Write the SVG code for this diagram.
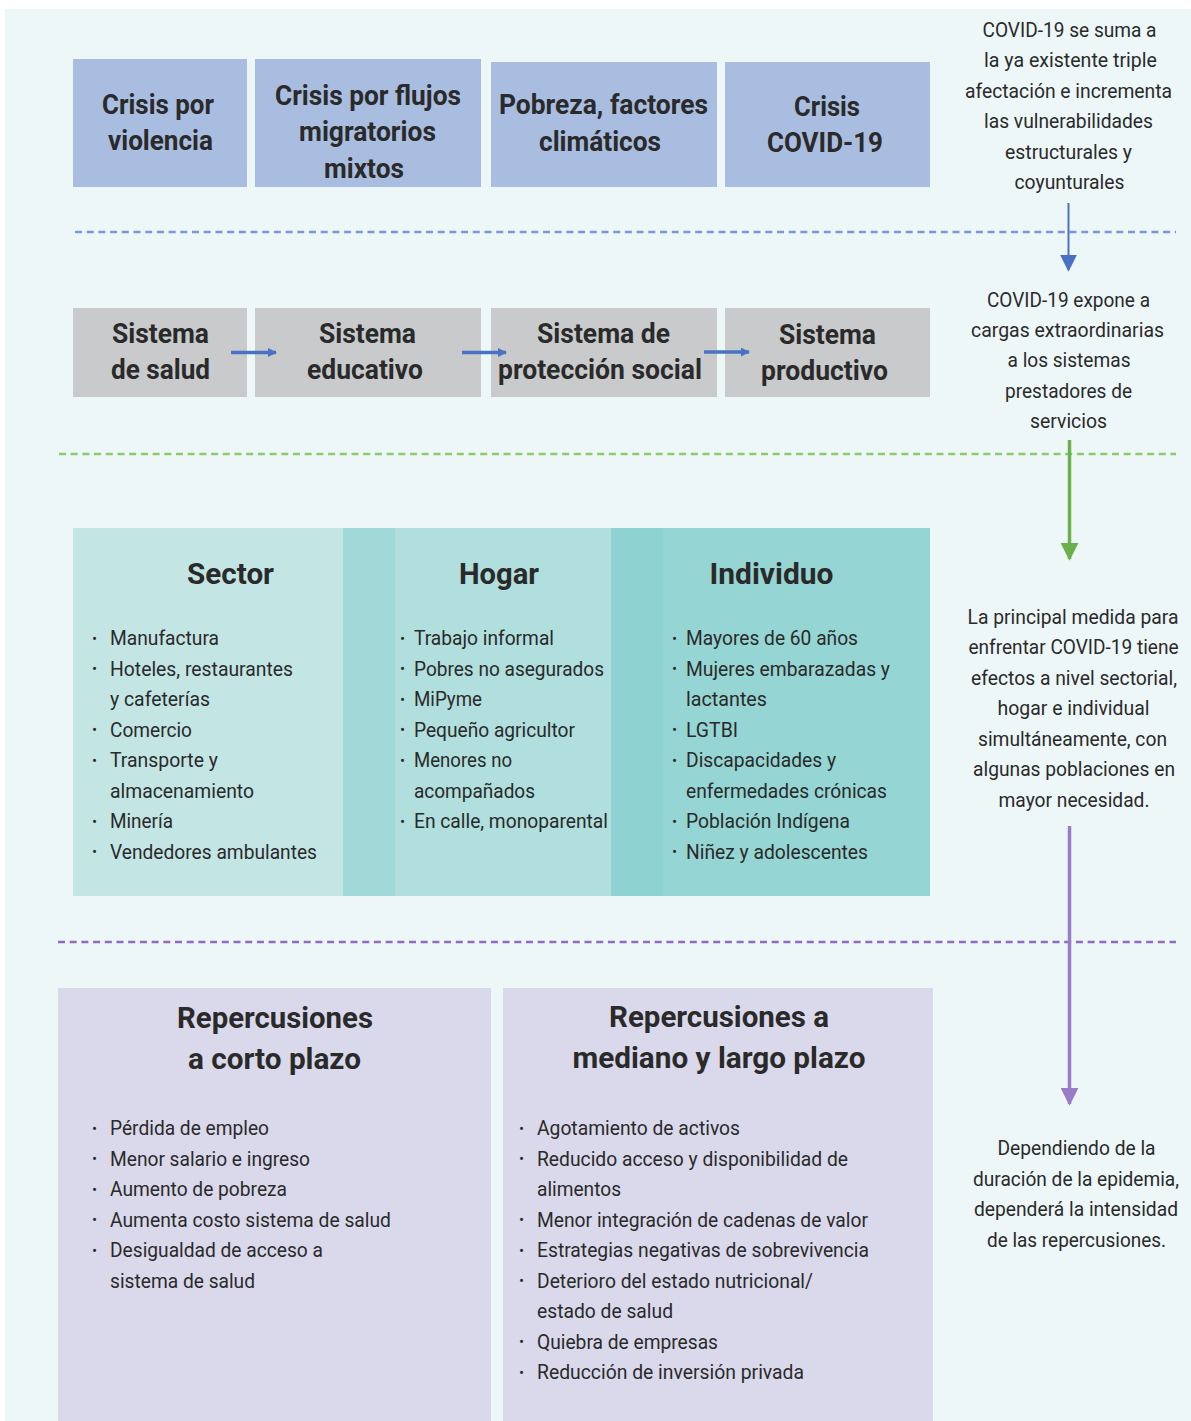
<svg xmlns="http://www.w3.org/2000/svg" width="1191" height="1421" viewBox="0 0 1191 1421">
  <style>
    .box-top { fill: #a9bde0; }
    .box-sys { fill: #c9cacc; }
    text { font-family: "Roboto", "Liberation Sans", sans-serif; fill: #2a2a2a; }
    .h1 { font-weight: bold; font-size: 28px; text-anchor: middle; }
    .h2 { font-weight: bold; font-size: 29px; text-anchor: middle; }
    .note { font-size: 20px; text-anchor: middle; }
    .item { font-size: 21px; }
    .bul { font-size: 15px; }
  </style>
  <defs>
    <marker id="ahBlue" viewBox="0 0 10 10" refX="9" refY="5" markerWidth="17" markerHeight="17" orient="auto" markerUnits="userSpaceOnUse">
      <path d="M0,0 L10,5 L0,10 z" fill="#4a72c4"/>
    </marker>
    <marker id="ahSmall" viewBox="0 0 10 10" refX="9" refY="5" markerWidth="9" markerHeight="9" orient="auto" markerUnits="userSpaceOnUse">
      <path d="M0,0 L10,5 L0,10 z" fill="#4a72c4"/>
    </marker>
    <marker id="ahGreen" viewBox="0 0 10 10" refX="9" refY="5" markerWidth="18" markerHeight="18" orient="auto" markerUnits="userSpaceOnUse">
      <path d="M0,0 L10,5 L0,10 z" fill="#6ab04c"/>
    </marker>
    <marker id="ahPurple" viewBox="0 0 10 10" refX="9" refY="5" markerWidth="18" markerHeight="18" orient="auto" markerUnits="userSpaceOnUse">
      <path d="M0,0 L10,5 L0,10 z" fill="#9a7cc6"/>
    </marker>
  </defs>

  <!-- page -->
  <rect x="0" y="0" width="1191" height="1421" fill="#ffffff"/>
  <rect x="5" y="9" width="1186" height="1412" fill="#eef7f8"/>

  <!-- section separators -->
  <g id="separators" fill="none" stroke-width="2.6" stroke-dasharray="7 4.7">
    <line x1="75" y1="232" x2="1176" y2="232" stroke="#7d95d6"/>
    <line x1="59" y1="454" x2="1176" y2="454" stroke="#8dca6c"/>
    <line x1="58" y1="942" x2="1176" y2="942" stroke="#8e6cc0"/>
  </g>

  <!-- crisis row -->
  <g id="crisis-violencia">
    <rect class="box-top" x="73" y="59" width="174" height="128"/>
    <text class="h1" x="158" y="114" textLength="112" lengthAdjust="spacingAndGlyphs">Crisis por</text>
    <text class="h1" x="160.5" y="150" textLength="105" lengthAdjust="spacingAndGlyphs">violencia</text>
  </g>
  <g id="crisis-flujos">
    <rect class="box-top" x="255" y="59" width="226" height="128"/>
    <text class="h1" x="368" y="105" textLength="186" lengthAdjust="spacingAndGlyphs">Crisis por flujos</text>
    <text class="h1" x="367.5" y="141" textLength="137" lengthAdjust="spacingAndGlyphs">migratorios</text>
    <text class="h1" x="364" y="178" textLength="80" lengthAdjust="spacingAndGlyphs">mixtos</text>
  </g>
  <g id="pobreza-clima">
    <rect class="box-top" x="491" y="62" width="226" height="125"/>
    <text class="h1" x="603.5" y="114" textLength="209" lengthAdjust="spacingAndGlyphs">Pobreza, factores</text>
    <text class="h1" x="600" y="151" textLength="122" lengthAdjust="spacingAndGlyphs">climáticos</text>
  </g>
  <g id="crisis-covid">
    <rect class="box-top" x="725" y="62" width="205" height="125"/>
    <text class="h1" x="827" y="116" textLength="66" lengthAdjust="spacingAndGlyphs">Crisis</text>
    <text class="h1" x="825" y="152" textLength="116" lengthAdjust="spacingAndGlyphs">COVID-19</text>
  </g>

  <!-- systems row -->
  <g id="sistema-salud">
    <rect class="box-sys" x="73" y="308" width="174" height="89"/>
    <text class="h1" x="160.5" y="343" textLength="97" lengthAdjust="spacingAndGlyphs">Sistema</text>
    <text class="h1" x="160.5" y="379" textLength="99" lengthAdjust="spacingAndGlyphs">de salud</text>
  </g>
  <g id="sistema-educativo">
    <rect class="box-sys" x="255" y="308" width="226" height="89"/>
    <text class="h1" x="367.5" y="343" textLength="97" lengthAdjust="spacingAndGlyphs">Sistema</text>
    <text class="h1" x="365" y="379" textLength="116" lengthAdjust="spacingAndGlyphs">educativo</text>
  </g>
  <g id="sistema-proteccion">
    <rect class="box-sys" x="491" y="308" width="226" height="89"/>
    <text class="h1" x="603.5" y="343" textLength="133" lengthAdjust="spacingAndGlyphs">Sistema de</text>
    <text class="h1" x="600" y="379" textLength="204" lengthAdjust="spacingAndGlyphs">protección social</text>
  </g>
  <g id="sistema-productivo">
    <rect class="box-sys" x="725" y="308" width="205" height="89"/>
    <text class="h1" x="827.5" y="344" textLength="97" lengthAdjust="spacingAndGlyphs">Sistema</text>
    <text class="h1" x="824.5" y="380" textLength="127" lengthAdjust="spacingAndGlyphs">productivo</text>
  </g>

  <!-- population panel -->
  <g id="poblacion-panel">
    <rect x="73" y="528" width="270" height="368" fill="#c3e6e5"/>
    <rect x="343" y="528" width="52" height="368" fill="#a0d9d8"/>
    <rect x="395" y="528" width="216" height="368" fill="#b0dfdd"/>
    <rect x="611" y="528" width="52" height="368" fill="#8ed2d1"/>
    <rect x="663" y="528" width="267" height="368" fill="#95d6d4"/>
  </g>
  <g id="sector">
    <text class="h2" x="230.5" y="584" textLength="87" lengthAdjust="spacingAndGlyphs">Sector</text>
    <g class="bul">
      <text x="92" y="643.5">•</text><text x="92" y="674">•</text><text x="92" y="735">•</text>
      <text x="92" y="765.5">•</text><text x="92" y="826.5">•</text><text x="92" y="857">•</text>
    </g>
    <text class="item" x="110" y="645" textLength="109" lengthAdjust="spacingAndGlyphs">Manufactura</text>
    <text class="item" x="110" y="675.5" textLength="183" lengthAdjust="spacingAndGlyphs">Hoteles, restaurantes</text>
    <text class="item" x="110" y="706" textLength="100" lengthAdjust="spacingAndGlyphs">y cafeterías</text>
    <text class="item" x="110" y="736.5" textLength="82" lengthAdjust="spacingAndGlyphs">Comercio</text>
    <text class="item" x="110" y="767" textLength="108" lengthAdjust="spacingAndGlyphs">Transporte y</text>
    <text class="item" x="110" y="797.5" textLength="144" lengthAdjust="spacingAndGlyphs">almacenamiento</text>
    <text class="item" x="110" y="828" textLength="63" lengthAdjust="spacingAndGlyphs">Minería</text>
    <text class="item" x="110" y="858.5" textLength="207" lengthAdjust="spacingAndGlyphs">Vendedores ambulantes</text>
  </g>
  <g id="hogar">
    <text class="h2" x="499" y="584" textLength="80" lengthAdjust="spacingAndGlyphs">Hogar</text>
    <g class="bul">
      <text x="400" y="643.5">•</text><text x="400" y="674">•</text><text x="400" y="704.5">•</text>
      <text x="400" y="735">•</text><text x="400" y="765.5">•</text><text x="400" y="826.5">•</text>
    </g>
    <text class="item" x="414" y="645" textLength="140" lengthAdjust="spacingAndGlyphs">Trabajo informal</text>
    <text class="item" x="414" y="675.5" textLength="190" lengthAdjust="spacingAndGlyphs">Pobres no asegurados</text>
    <text class="item" x="414" y="706" textLength="68" lengthAdjust="spacingAndGlyphs">MiPyme</text>
    <text class="item" x="414" y="736.5" textLength="161" lengthAdjust="spacingAndGlyphs">Pequeño agricultor</text>
    <text class="item" x="414" y="767" textLength="98" lengthAdjust="spacingAndGlyphs">Menores no</text>
    <text class="item" x="414" y="797.5" textLength="121" lengthAdjust="spacingAndGlyphs">acompañados</text>
    <text class="item" x="414" y="828" textLength="194" lengthAdjust="spacingAndGlyphs">En calle, monoparental</text>
  </g>
  <g id="individuo">
    <text class="h2" x="771.5" y="584" textLength="124" lengthAdjust="spacingAndGlyphs">Individuo</text>
    <g class="bul">
      <text x="672" y="643.5">•</text><text x="672" y="674">•</text><text x="672" y="735">•</text>
      <text x="672" y="765.5">•</text><text x="672" y="826.5">•</text><text x="672" y="857">•</text>
    </g>
    <text class="item" x="686" y="645" textLength="172" lengthAdjust="spacingAndGlyphs">Mayores de 60 años</text>
    <text class="item" x="686" y="675.5" textLength="204" lengthAdjust="spacingAndGlyphs">Mujeres embarazadas y</text>
    <text class="item" x="686" y="706" textLength="81" lengthAdjust="spacingAndGlyphs">lactantes</text>
    <text class="item" x="686" y="736.5" textLength="52" lengthAdjust="spacingAndGlyphs">LGTBI</text>
    <text class="item" x="686" y="767" textLength="150" lengthAdjust="spacingAndGlyphs">Discapacidades y</text>
    <text class="item" x="686" y="797.5" textLength="201" lengthAdjust="spacingAndGlyphs">enfermedades crónicas</text>
    <text class="item" x="686" y="828" textLength="164" lengthAdjust="spacingAndGlyphs">Población Indígena</text>
    <text class="item" x="686" y="858.5" textLength="182" lengthAdjust="spacingAndGlyphs">Niñez y adolescentes</text>
  </g>

  <!-- impact panels -->
  <g id="corto-plazo">
    <rect x="58" y="988" width="433" height="433" fill="#d9d9eb"/>
    <text class="h2" x="275" y="1028" textLength="196" lengthAdjust="spacingAndGlyphs">Repercusiones</text>
    <text class="h2" x="274.5" y="1069" textLength="173" lengthAdjust="spacingAndGlyphs">a corto plazo</text>
    <g class="bul">
      <text x="92" y="1133.5">•</text><text x="92" y="1164">•</text><text x="92" y="1194.5">•</text>
      <text x="92" y="1225">•</text><text x="92" y="1255.5">•</text>
    </g>
    <text class="item" x="110" y="1135" textLength="159" lengthAdjust="spacingAndGlyphs">Pérdida de empleo</text>
    <text class="item" x="110" y="1165.5" textLength="200" lengthAdjust="spacingAndGlyphs">Menor salario e ingreso</text>
    <text class="item" x="110" y="1196" textLength="177" lengthAdjust="spacingAndGlyphs">Aumento de pobreza</text>
    <text class="item" x="110" y="1226.5" textLength="281" lengthAdjust="spacingAndGlyphs">Aumenta costo sistema de salud</text>
    <text class="item" x="110" y="1257" textLength="213" lengthAdjust="spacingAndGlyphs">Desigualdad de acceso a</text>
    <text class="item" x="110" y="1287.5" textLength="145" lengthAdjust="spacingAndGlyphs">sistema de salud</text>
  </g>
  <g id="mediano-largo-plazo">
    <rect x="503" y="988" width="430" height="433" fill="#d9d9eb"/>
    <text class="h2" x="719" y="1027" textLength="220" lengthAdjust="spacingAndGlyphs">Repercusiones a</text>
    <text class="h2" x="719" y="1068" textLength="293" lengthAdjust="spacingAndGlyphs">mediano y largo plazo</text>
    <g class="bul">
      <text x="519" y="1133.5">•</text><text x="519" y="1164">•</text><text x="519" y="1225">•</text>
      <text x="519" y="1255.5">•</text><text x="519" y="1286">•</text><text x="519" y="1347">•</text>
      <text x="519" y="1377.5">•</text>
    </g>
    <text class="item" x="537" y="1135" textLength="203" lengthAdjust="spacingAndGlyphs">Agotamiento de activos</text>
    <text class="item" x="537" y="1165.5" textLength="311" lengthAdjust="spacingAndGlyphs">Reducido acceso y disponibilidad de</text>
    <text class="item" x="537" y="1196" textLength="84" lengthAdjust="spacingAndGlyphs">alimentos</text>
    <text class="item" x="537" y="1226.5" textLength="331" lengthAdjust="spacingAndGlyphs">Menor integración de cadenas de valor</text>
    <text class="item" x="537" y="1257" textLength="332" lengthAdjust="spacingAndGlyphs">Estrategias negativas de sobrevivencia</text>
    <text class="item" x="537" y="1287.5" textLength="276" lengthAdjust="spacingAndGlyphs">Deterioro del estado nutricional/</text>
    <text class="item" x="537" y="1318" textLength="136" lengthAdjust="spacingAndGlyphs">estado de salud</text>
    <text class="item" x="537" y="1348.5" textLength="181" lengthAdjust="spacingAndGlyphs">Quiebra de empresas</text>
    <text class="item" x="537" y="1379" textLength="267" lengthAdjust="spacingAndGlyphs">Reducción de inversión privada</text>
  </g>

  <!-- side notes -->
  <g id="nota-triple">
    <text class="note" x="1069.5" y="37" textLength="174" lengthAdjust="spacingAndGlyphs">COVID-19 se suma a</text>
    <text class="note" x="1070.5" y="67" textLength="173" lengthAdjust="spacingAndGlyphs">la ya existente triple</text>
    <text class="note" x="1068.5" y="98" textLength="207" lengthAdjust="spacingAndGlyphs">afectación e incrementa</text>
    <text class="note" x="1068.5" y="128" textLength="169" lengthAdjust="spacingAndGlyphs">las vulnerabilidades</text>
    <text class="note" x="1068.5" y="159" textLength="127" lengthAdjust="spacingAndGlyphs">estructurales y</text>
    <text class="note" x="1069.5" y="189" textLength="110" lengthAdjust="spacingAndGlyphs">coyunturales</text>
  </g>
  <g id="nota-sistemas">
    <text class="note" x="1068.5" y="307" textLength="163" lengthAdjust="spacingAndGlyphs">COVID-19 expone a</text>
    <text class="note" x="1067.5" y="337" textLength="193" lengthAdjust="spacingAndGlyphs">cargas extraordinarias</text>
    <text class="note" x="1069" y="367" textLength="123" lengthAdjust="spacingAndGlyphs">a los sistemas</text>
    <text class="note" x="1068.5" y="397.5" textLength="127" lengthAdjust="spacingAndGlyphs">prestadores de</text>
    <text class="note" x="1068.5" y="428" textLength="77" lengthAdjust="spacingAndGlyphs">servicios</text>
  </g>
  <g id="nota-medida">
    <text class="note" x="1073" y="624" textLength="211" lengthAdjust="spacingAndGlyphs">La principal medida para</text>
    <text class="note" x="1073.5" y="654" textLength="210" lengthAdjust="spacingAndGlyphs">enfrentar COVID-19 tiene</text>
    <text class="note" x="1074" y="684.5" textLength="206" lengthAdjust="spacingAndGlyphs">efectos a nivel sectorial,</text>
    <text class="note" x="1073.5" y="715" textLength="152" lengthAdjust="spacingAndGlyphs">hogar e individual</text>
    <text class="note" x="1072.5" y="745.5" textLength="189" lengthAdjust="spacingAndGlyphs">simultáneamente, con</text>
    <text class="note" x="1074" y="776" textLength="202" lengthAdjust="spacingAndGlyphs">algunas poblaciones en</text>
    <text class="note" x="1074" y="806.5" textLength="151" lengthAdjust="spacingAndGlyphs">mayor necesidad.</text>
  </g>
  <g id="nota-duracion">
    <text class="note" x="1076.5" y="1155" textLength="158" lengthAdjust="spacingAndGlyphs">Dependiendo de la</text>
    <text class="note" x="1076" y="1185.5" textLength="206" lengthAdjust="spacingAndGlyphs">duración de la epidemia,</text>
    <text class="note" x="1076" y="1216" textLength="204" lengthAdjust="spacingAndGlyphs">dependerá la intensidad</text>
    <text class="note" x="1076.5" y="1246.5" textLength="179" lengthAdjust="spacingAndGlyphs">de las repercusiones.</text>
  </g>

  <!-- connectors -->
  <g id="connectors" fill="none">
    <line x1="231" y1="352.5" x2="276" y2="352.5" stroke="#4a72c4" stroke-width="3.5" marker-end="url(#ahSmall)"/>
    <line x1="462" y1="352.5" x2="506" y2="352.5" stroke="#4a72c4" stroke-width="3.5" marker-end="url(#ahSmall)"/>
    <line x1="704" y1="352" x2="749" y2="352" stroke="#4a72c4" stroke-width="3.5" marker-end="url(#ahSmall)"/>
    <line x1="1068.5" y1="203" x2="1068.5" y2="270" stroke="#4a72c4" stroke-width="2" marker-end="url(#ahBlue)"/>
    <line x1="1069.5" y1="440" x2="1069.5" y2="559" stroke="#6ab04c" stroke-width="3.5" marker-end="url(#ahGreen)"/>
    <line x1="1069.5" y1="826" x2="1069.5" y2="1104" stroke="#9a7cc6" stroke-width="3.5" marker-end="url(#ahPurple)"/>
  </g>
</svg>
